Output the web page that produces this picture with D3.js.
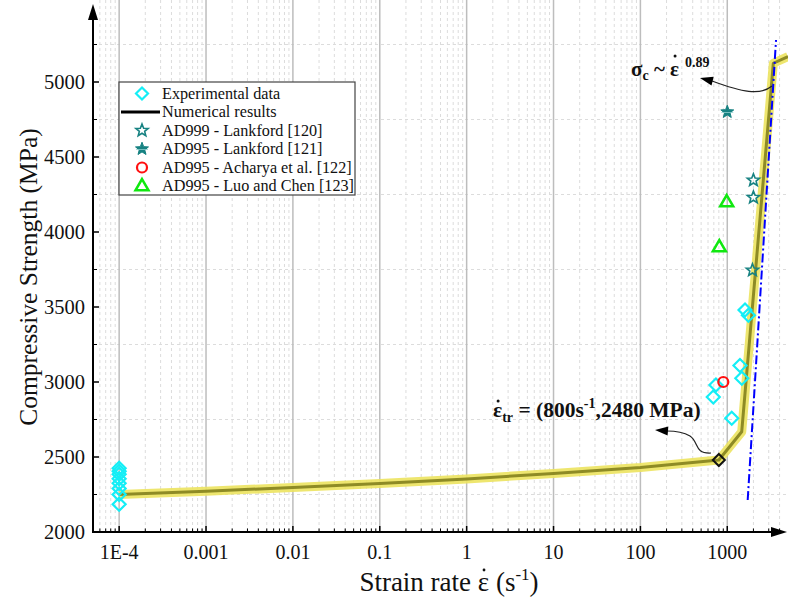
<!DOCTYPE html>
<html><head><meta charset="utf-8">
<script src="https://cdn.jsdelivr.net/npm/d3@7"></script>
<style>body{margin:0;background:#fff}svg{display:block}</style>
</head><body>
<svg id="c" width="788" height="601"></svg>
<script>
// ---- data ----
const expRate = [1e-4,1e-4,1e-4,1e-4,1e-4,1e-4,1e-4,1e-4, 1600,1750,1400,1470,740,690,1125];
const expStrength = [2425,2405,2385,2355,2325,2290,2250,2185, 3480,3445,3110,3025,2980,2900,2758];
const numRate = [1e-4,0.001,0.01,0.1,1,10,100,800,1466,3390,5000];
const numStrength = [2250,2272,2297,2324,2354,2390,2430,2480,2668,5125,5170];
const lank120Rate = [2000,2000,1950];
const lank120Strength = [4345,4230,3745];
const lank121Rate = [1000];
const lank121Strength = [4800];
const acharyaRate = [900];
const acharyaStrength = [3000];
const luoRate = [985,810];
const luoStrength = [4200,3900];
const fitRate = [1718,3640];
const fitStrength = [2213,5280];
const transRate = [800];
const transStrength = [2480];
const xTickVals = [1e-4,1e-3,1e-2,1e-1,1,10,100,1000];
const xTickLabels = ["1E-4","0.001","0.01","0.1","1","10","100","1000"];
const yTickVals = [2000,2500,3000,3500,4000,4500,5000];
const legendLabels = ["Experimental data","Numerical results","AD999 - Lankford [120]","AD995 - Lankford [121]","AD995 - Acharya et al. [122]","AD995 - Luo and Chen [123]"];

const svg = d3.select("#c");
const L=93, R=788, B=532, T=-0.5;
const x = d3.scaleLog().domain([5e-5,5000]).range([L,R]);
const y = d3.scaleLinear().domain([2000,5550]).range([B,T]);
const serif = "'Liberation Serif','Times New Roman',serif";

svg.append("defs").append("clipPath").attr("id","clip")
  .append("rect").attr("x",L).attr("y",0).attr("width",R-L).attr("height",B);

// gridlines
const minorX = [];
for (let e=-5;e<=3;e++) for (let m=2;m<=9;m++){const v=m*Math.pow(10,e); if(v>5e-5&&v<5000) minorX.push(v);}
const g = svg.append("g");
g.selectAll(".mx").data(minorX).join("line")
  .attr("x1",d=>x(d)).attr("x2",d=>x(d)).attr("y1",0).attr("y2",B)
  .attr("stroke","#dcdcdc").attr("stroke-width",1).attr("stroke-dasharray","3,3");
const minorY = d3.range(2250,5500,500);
g.selectAll(".my").data(minorY).join("line")
  .attr("x1",L).attr("x2",R).attr("y1",d=>y(d)).attr("y2",d=>y(d))
  .attr("stroke","#dcdcdc").attr("stroke-width",1).attr("stroke-dasharray","3,3");
g.selectAll(".Mx").data(xTickVals).join("line")
  .attr("x1",d=>x(d)).attr("x2",d=>x(d)).attr("y1",0).attr("y2",B)
  .attr("stroke","#bdbdbd").attr("stroke-width",1.5);

// plot content
const pc = svg.append("g").attr("clip-path","url(#clip)");
const numData = numRate.map((r,i)=>[r,numStrength[i]]);
const line = d3.line().x(d=>x(d[0])).y(d=>y(d[1]));
pc.append("path").datum(numData).attr("d",line).attr("fill","none")
  .attr("stroke","#ece35f").attr("stroke-opacity",0.9).attr("stroke-width",9).attr("stroke-linejoin","round");
pc.append("path").datum(numData).attr("d",line).attr("fill","none")
  .attr("stroke","#8e8b25").attr("stroke-width",3).attr("stroke-linejoin","round");
pc.append("path").datum(fitRate.map((r,i)=>[r,fitStrength[i]])).attr("d",line).attr("fill","none")
  .attr("stroke","#0000ff").attr("stroke-width",2).attr("stroke-dasharray","9,3,2,3");

function diamondPath(s){return `M0,${-s}L${s},0L0,${s}L${-s},0Z`;}
function starPath(ro,ri){let p="";for(let i=0;i<10;i++){const a=-Math.PI/2+i*Math.PI/5;const r=i%2?ri:ro;p+=(i?"L":"M")+(r*Math.cos(a)).toFixed(2)+","+(r*Math.sin(a)).toFixed(2);}return p+"Z";}
function triPath(s){const h=s*0.866;return `M0,${-h*0.62}L${s/2},${h*0.38}L${-s/2},${h*0.38}Z`;}

const cyan="#14eef6", teal="#178282", red="#ff1010", green="#10e810";
function drawDiamonds(rates, vals){
  pc.selectAll(null).data(rates.map((r,i)=>[r,vals[i]])).join("path")
    .attr("transform",d=>`translate(${x(d[0])},${y(d[1])})`)
    .attr("d",diamondPath(6.5)).attr("fill","none").attr("stroke",cyan).attr("stroke-width",2.2);
}
drawDiamonds(expRate, expStrength);
pc.selectAll(null).data(lank120Rate.map((r,i)=>[r,lank120Strength[i]])).join("path")
  .attr("transform",d=>`translate(${x(d[0])},${y(d[1])})`)
  .attr("d",starPath(6.5,2.8)).attr("fill","none").attr("stroke",teal).attr("stroke-width",1.6);
const fs = pc.selectAll(null).data(lank121Rate.map((r,i)=>[r,lank121Strength[i]])).join("g")
  .attr("transform",d=>`translate(${x(d[0])},${y(d[1])})`);
fs.append("path").attr("d",starPath(6.8,2.9)).attr("fill",teal).attr("stroke",teal).attr("stroke-width",1);
fs.append("line").attr("x1",-6).attr("x2",6).attr("y1",0.5).attr("y2",0.5).attr("stroke","#8fcfcf").attr("stroke-width",0.8);
pc.selectAll(null).data(acharyaRate.map((r,i)=>[r,acharyaStrength[i]])).join("circle")
  .attr("cx",d=>x(d[0])).attr("cy",d=>y(d[1])).attr("r",5).attr("fill","none").attr("stroke",red).attr("stroke-width",2.2);
pc.selectAll(null).data(luoRate.map((r,i)=>[r,luoStrength[i]])).join("path")
  .attr("transform",d=>`translate(${x(d[0])},${y(d[1])})`)
  .attr("d",triPath(13)).attr("fill","none").attr("stroke",green).attr("stroke-width",2.5).attr("stroke-linejoin","miter");
pc.selectAll(null).data(transRate.map((r,i)=>[r,transStrength[i]])).join("path")
  .attr("transform",d=>`translate(${x(d[0])},${y(d[1])})`)
  .attr("d",diamondPath(6)).attr("fill","none").attr("stroke","#111").attr("stroke-width",2);

// axes
const ax = svg.append("g");
ax.append("line").attr("x1",L).attr("x2",L).attr("y1",B+1).attr("y2",16).attr("stroke","#000").attr("stroke-width",2);
ax.append("path").attr("d",`M${L},4L${L+5},20L${L-5},20Z`).attr("fill","#000");
ax.append("line").attr("x1",L-1).attr("x2",775).attr("y1",B).attr("y2",B).attr("stroke","#000").attr("stroke-width",2);
ax.append("path").attr("d",`M787,${B}L771,${B-5}L771,${B+5}Z`).attr("fill","#000");
// x ticks
ax.selectAll(".xt").data(xTickVals).join("line")
  .attr("x1",d=>x(d)).attr("x2",d=>x(d)).attr("y1",B).attr("y2",B-6).attr("stroke","#000").attr("stroke-width",1.5);
ax.selectAll(".xmt").data(minorX).join("line")
  .attr("x1",d=>x(d)).attr("x2",d=>x(d)).attr("y1",B).attr("y2",B-3.5).attr("stroke","#000").attr("stroke-width",1);
ax.selectAll(".xl").data(xTickVals).join("text")
  .attr("x",d=>x(d)).attr("y",559).attr("text-anchor","middle")
  .attr("font-family",serif).attr("font-size",20).attr("fill","#111").text((d,i)=>xTickLabels[i]);
// y ticks
ax.selectAll(".yt").data(yTickVals).join("line")
  .attr("x1",L).attr("x2",L+6).attr("y1",d=>y(d)).attr("y2",d=>y(d)).attr("stroke","#000").attr("stroke-width",1.5);
ax.selectAll(".ymt").data(minorY).join("line")
  .attr("x1",L).attr("x2",L+4).attr("y1",d=>y(d)).attr("y2",d=>y(d)).attr("stroke","#000").attr("stroke-width",1);
ax.selectAll(".yl").data(yTickVals).join("text")
  .attr("x",85).attr("y",d=>y(d)+7).attr("text-anchor","end")
  .attr("font-family",serif).attr("font-size",20.5).attr("fill","#111").text(d=>d);

// axis titles
svg.append("text").attr("transform","translate(37,277) rotate(-90)").attr("text-anchor","middle")
  .attr("font-family",serif).attr("font-size",25.5).attr("fill","#111").text("Compressive Strength (MPa)");
const xt = svg.append("text").attr("x",449).attr("y",591).attr("text-anchor","middle")
  .attr("font-family",serif).attr("font-size",27).attr("fill","#111");
xt.append("tspan").text("Strain rate ");
xt.append("tspan").attr("class","eps").text("ε");
xt.append("tspan").text(" (s");
xt.append("tspan").attr("font-size",17).attr("dy",-11).text("-1");
xt.append("tspan").attr("dy",11).text(")");

function dotOver(textSel, idx, dy, r){
  const node = textSel.node();
  const s = node.getStartPositionOfChar(idx), e = node.getEndPositionOfChar(idx);
  svg.append("circle").attr("cx",(s.x+e.x)/2+0.5).attr("cy",s.y+dy).attr("r",r).attr("fill","#111");
}
dotOver(xt, "Strain rate ".length, -21, 1.4);

// legend
const lg = svg.append("g");
lg.append("rect").attr("x",119).attr("y",82).attr("width",236).attr("height",113)
  .attr("fill","#fff").attr("stroke","#444").attr("stroke-width",1.2);
const rowY = i => 93.5 + i*18.5;
const sx = 142;
lg.append("path").attr("transform",`translate(${sx},${rowY(0)})`).attr("d",diamondPath(6)).attr("fill","none").attr("stroke",cyan).attr("stroke-width",2.2);
lg.append("line").attr("x1",121).attr("x2",160).attr("y1",rowY(1)).attr("y2",rowY(1)).attr("stroke","#000").attr("stroke-width",3);
lg.append("path").attr("transform",`translate(${sx},${rowY(2)})`).attr("d",starPath(6.5,2.8)).attr("fill","none").attr("stroke",teal).attr("stroke-width",1.6);
lg.append("path").attr("transform",`translate(${sx},${rowY(3)})`).attr("d",starPath(6.8,2.9)).attr("fill",teal).attr("stroke",teal).attr("stroke-width",1);
lg.append("line").attr("x1",sx-6).attr("x2",sx+6).attr("y1",rowY(3)+0.5).attr("y2",rowY(3)+0.5).attr("stroke","#8fcfcf").attr("stroke-width",0.8);
lg.append("circle").attr("cx",sx).attr("cy",rowY(4)).attr("r",5).attr("fill","none").attr("stroke",red).attr("stroke-width",2.2);
lg.append("path").attr("transform",`translate(${sx},${rowY(5)})`).attr("d",triPath(13)).attr("fill","none").attr("stroke",green).attr("stroke-width",2.5);
lg.selectAll(".lt").data(legendLabels).join("text")
  .attr("x",162).attr("y",(d,i)=>rowY(i)+5).attr("font-family",serif).attr("font-size",16.2).attr("fill","#111").text(d=>d);

// annotations
const a1 = svg.append("text").attr("x",631).attr("y",76).attr("font-family",serif).attr("font-weight","bold").attr("font-size",21).attr("fill","#111");
a1.append("tspan").text("σ");
a1.append("tspan").attr("font-size",14).attr("dy",4).text("c");
a1.append("tspan").attr("dy",-4).text(" ~ ε");
a1.append("tspan").attr("font-size",14).attr("dy",-9).attr("dx",6).text("0.89");
dotOver(a1, 5, -20, 1.5);

const a2 = svg.append("text").attr("x",493).attr("y",417).attr("font-family",serif).attr("font-weight","bold").attr("font-size",21.5).attr("fill","#111");
a2.append("tspan").text("ε");
a2.append("tspan").attr("font-size",14).attr("dy",5).text("tr");
a2.append("tspan").attr("dy",-5).text(" = (800s");
a2.append("tspan").attr("font-size",14).attr("dy",-9).text("-1");
a2.append("tspan").attr("dy",9).text(",2480 MPa)");
dotOver(a2, 0, -16, 1.5);

// arrows
function arrowHead(tipX, tipY, fromX, fromY){
  const ang = Math.atan2(tipY-fromY, tipX-fromX);
  const len=13, w=4.5;
  const bx = tipX - len*Math.cos(ang), by = tipY - len*Math.sin(ang);
  const px = -Math.sin(ang)*w, py = Math.cos(ang)*w;
  svg.append("path").attr("d",`M${tipX},${tipY}L${bx+px},${by+py}L${bx-px},${by-py}Z`).attr("fill","#000");
}
svg.append("path").attr("d","M772,86 C760,96 742,92 712,81").attr("fill","none").attr("stroke","#222").attr("stroke-width",1.2);
arrowHead(700,78,712,81);
svg.append("path").attr("d","M711,453 C694,454 699,442 690,436 C683,432 676,431 667,431").attr("fill","none").attr("stroke","#222").attr("stroke-width",1.2);
arrowHead(655,430,667,431);
</script>
</body></html>
